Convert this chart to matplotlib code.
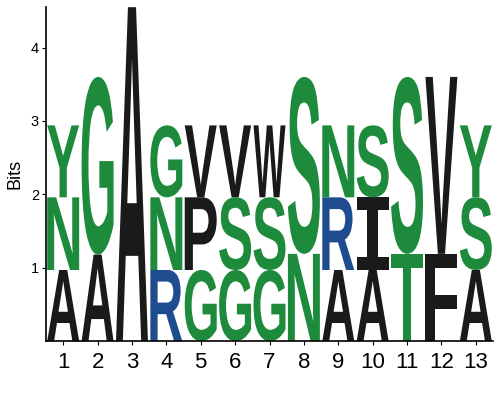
import matplotlib
matplotlib.use("Agg")
import matplotlib.pyplot as plt
from matplotlib.font_manager import FontProperties
from matplotlib.patches import PathPatch
from matplotlib.textpath import TextPath
from matplotlib.transforms import Affine2D

# Stacks per position, bottom to top: (letter, bits)
positions = list(range(1, 14))
stacks = [
    [("A", 0.97), ("N", 0.99), ("Y", 0.98)],
    [("A", 1.18), ("G", 2.42)],
    [("A", 4.55)],
    [("R", 0.97), ("N", 0.99), ("G", 0.98)],
    [("G", 0.97), ("P", 0.99), ("V", 0.98)],
    [("G", 0.97), ("S", 0.99), ("V", 0.98)],
    [("G", 0.97), ("S", 0.99), ("W", 0.98)],
    [("N", 1.19), ("S", 2.41)],
    [("A", 0.97), ("R", 0.99), ("N", 0.98)],
    [("A", 0.97), ("I", 0.99), ("S", 0.98)],
    [("T", 1.19), ("S", 2.41)],
    [("F", 1.19), ("V", 2.41)],
    [("A", 0.97), ("S", 0.99), ("Y", 0.98)],
]

GREEN = "#1d8a3c"
BLUE = "#1f4b8f"
BLACK = "#1a1a1a"
colors = {"G": GREEN, "S": GREEN, "T": GREEN, "Y": GREEN, "C": GREEN,
          "N": GREEN, "Q": GREEN, "R": BLUE, "K": BLUE, "H": BLUE}

plt.rcParams["font.family"] = ["Liberation Sans", "DejaVu Sans"]
font = FontProperties(family="Liberation Sans", weight="bold")
# the logo "I" has bars top and bottom
font_i = FontProperties(family="DejaVu Sans Mono", weight="bold")


def draw_letter(ax, letter, x, y, width, height, color):
    prop = font_i if letter == "I" else font
    path = TextPath((0, 0), letter, size=1, prop=prop)
    ext = path.get_extents()
    tr = (Affine2D()
          .translate(-ext.x0, -ext.y0)
          .scale(width / ext.width, height / ext.height)
          .translate(x - width / 2, y))
    ax.add_patch(PathPatch(tr.transform_path(path), facecolor=color,
                           edgecolor="none"))


fig = plt.figure(figsize=(5, 4), dpi=100)
ax = fig.add_axes([0.092, 0.147, 0.894, 0.835])

for pos, stack in zip(positions, stacks):
    bottom = 0.0
    for letter, h in stack:
        draw_letter(ax, letter, pos, bottom, 0.93, h, colors.get(letter, BLACK))
        bottom += h

ax.set_xlim(0.5, 13.5)
ax.set_ylim(0, 4.55)
ax.set_xticks(positions)
ax.set_xticklabels([str(p) for p in positions], fontsize=16)
ax.set_yticks([1, 2, 3, 4])
ax.tick_params(axis="y", labelsize=10.5, length=3, pad=2)
ax.tick_params(axis="x", length=3, pad=5)
ax.set_ylabel("Bits", fontsize=13, labelpad=5)
for side in ("top", "right"):
    ax.spines[side].set_visible(False)
ax.spines["left"].set_linewidth(1.2)
ax.spines["bottom"].set_linewidth(1.2)

fig.savefig("out.png", dpi=100)
